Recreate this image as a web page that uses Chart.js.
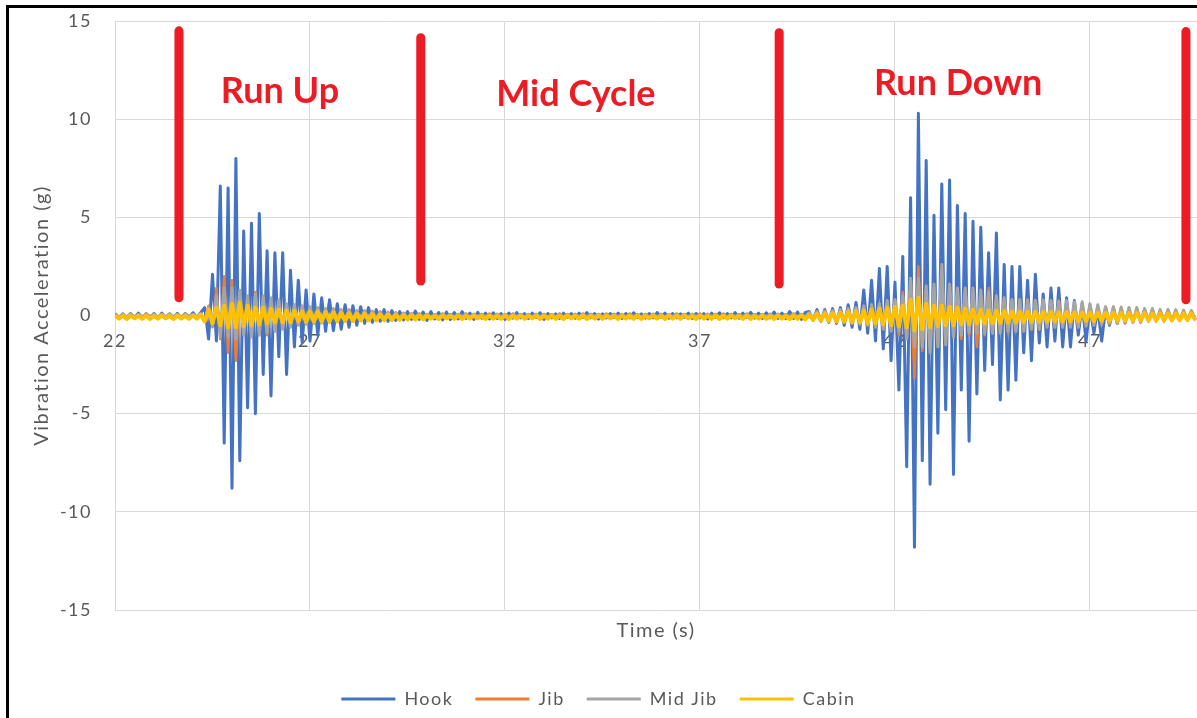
<!DOCTYPE html>
<html>
<head>
<meta charset="utf-8">
<title>Vibration acceleration</title>
<script src="https://cdn.jsdelivr.net/npm/chart.js@4.4.1/dist/chart.umd.min.js"></script>
<style>
  html, body { margin: 0; padding: 0; background: #fff; overflow: hidden; }
  #wrap { position: relative; width: 1197px; height: 718px; }
  #frame { position: absolute; left: 6px; top: 5px; width: 1300px; height: 800px;
           border-left: 3px solid #000; border-top: 3px solid #000; pointer-events: none; }
</style>
</head>
<body>
<div id="wrap"><canvas id="chart"></canvas><div id="frame"></div></div>
<script>
// Samples every 0.1 s starting at 22 s (in g)
const sampleStart = 22;
const sampleStep = 0.1;

const hook = [
  0.1,-0.12,0.08,-0.14,0.1,-0.1,0.12,-0.13,0.09,-0.11,
  0.1,-0.15,0.12,-0.1,0.08,-0.12,0.11,-0.13,0.1,-0.1,
  0.14,-0.12,0.15,0.4,-1.2,2.1,-1.3,6.6,-6.5,6.5,
  -8.8,8.0,-7.4,4.3,-4.7,4.7,-5.0,5.2,-3.0,3.3,
  -4.1,3.2,-2.1,3.2,-3.0,2.3,-1.6,1.8,-1.4,1.3,
  -1.3,1.1,-1.0,0.9,-0.8,0.8,-0.77,0.6,-0.7,0.55,
  -0.6,0.5,-0.5,0.45,-0.4,0.4,-0.35,0.3,-0.3,0.3,
  -0.3,0.25,-0.25,0.2,-0.22,0.2,-0.2,0.22,-0.2,0.18,
  -0.25,0.2,-0.18,0.15,-0.22,0.17,-0.2,0.15,-0.18,0.2,
  -0.15,0.12,-0.2,0.16,-0.14,0.12,-0.18,0.14,-0.15,0.1,
  -0.2,0.12,-0.13,0.15,-0.12,0.1,-0.16,0.12,-0.1,0.14,
  -0.2,0.1,-0.12,0.08,-0.15,0.12,-0.1,0.1,-0.14,0.12,
  -0.1,0.15,-0.12,0.1,-0.18,0.08,-0.12,0.1,-0.1,0.12,
  -0.15,0.1,-0.12,0.14,-0.1,0.08,-0.13,0.1,-0.12,0.15,
  -0.1,0.12,-0.14,0.1,-0.12,0.08,-0.1,0.12,-0.15,0.1,
  -0.12,0.1,-0.18,0.12,-0.1,0.14,-0.12,0.1,-0.12,0.15,
  -0.14,0.12,-0.1,0.16,-0.13,0.12,-0.15,0.14,-0.12,0.18,
  -0.15,0.12,-0.16,0.2,-0.15,0.18,-0.2,0.16,0.2,-0.25,
  0.3,-0.3,0.3,-0.35,0.35,-0.4,0.4,-0.5,0.55,-0.6,
  0.66,-0.7,1.3,-0.9,1.8,-1.3,2.4,-1.7,2.5,-2.3,
  1.7,-3.8,3.0,-7.7,6.0,-11.8,10.3,-7.4,7.9,-8.6,
  5.1,-6.0,6.7,-4.8,6.9,-8.1,5.6,-3.8,5.2,-6.4,
  4.8,-4.0,4.5,-2.8,3.2,-2.5,4.2,-4.3,2.6,-3.8,
  2.5,-3.3,2.5,-1.9,1.8,-2.3,2.1,-1.4,1.1,-1.6,
  1.4,-1.3,1.4,-1.6,0.9,-1.6,0.77,-1.0,0.6,-1.3,
  0.5,-0.9,0.4,-1.3,0.35,-0.5,0.3,-0.4,0.3,-0.35,
  0.3,-0.3,0.25,-0.3,0.25,-0.25,0.2,-0.25,0.2,-0.2,
  0.2,-0.25,0.2,-0.2,0.18,-0.2,0.2,-0.18
];

const jib = [
  0.05,-0.1,0.08,-0.08,0.06,-0.1,0.08,-0.06,0.1,-0.08,
  0.05,-0.1,0.08,-0.08,0.06,-0.1,0.08,-0.06,0.1,-0.08,
  0.05,-0.1,0.1,-0.3,0.5,-0.6,1.4,-1.2,2.0,-1.9,
  1.8,-2.3,1.2,-1.0,0.9,-1.0,1.2,-0.9,0.8,-1.0,
  0.7,-0.8,0.6,-0.6,0.5,-0.5,0.45,-0.4,0.4,-0.4,
  0.35,-0.35,0.3,-0.35,0.3,-0.3,0.3,-0.25,0.25,-0.25,
  0.25,-0.22,0.2,-0.22,0.2,-0.2,0.2,-0.18,0.18,-0.18,
  0.15,-0.15,0.15,-0.12,0.12,-0.12,0.1,-0.08,0.1,-0.06,
  0.08,-0.1,0.06,-0.08,0.1,-0.06,0.08,-0.1,0.06,-0.08,
  0.1,-0.08,0.06,-0.1,0.08,-0.06,0.1,-0.08,0.05,-0.1,
  0.08,-0.06,0.1,-0.08,0.06,-0.1,0.08,-0.08,0.06,-0.1,
  0.08,-0.1,0.06,-0.08,0.1,-0.06,0.08,-0.1,0.06,-0.08,
  0.1,-0.08,0.06,-0.1,0.08,-0.06,0.1,-0.08,0.05,-0.1,
  0.08,-0.06,0.1,-0.08,0.06,-0.1,0.08,-0.08,0.06,-0.1,
  0.08,-0.1,0.06,-0.08,0.1,-0.06,0.08,-0.1,0.06,-0.08,
  0.1,-0.08,0.06,-0.1,0.08,-0.06,0.1,-0.08,0.05,-0.1,
  0.08,-0.06,0.1,-0.08,0.06,-0.1,0.08,-0.08,0.06,-0.1,
  0.08,-0.1,0.06,-0.08,0.1,-0.06,0.08,-0.1,0.15,-0.15,
  0.2,-0.2,0.2,-0.25,0.25,-0.3,0.3,-0.3,0.35,-0.35,
  0.4,-0.4,0.45,-0.5,0.5,-0.55,0.6,-0.6,0.7,-0.7,
  0.8,-1.0,1.2,-1.2,1.5,-3.2,2.5,-1.8,1.4,-1.6,
  1.2,-1.2,2.1,-1.3,1.6,-1.0,1.4,-1.2,1.2,-1.0,
  1.0,-1.6,1.1,-1.0,1.4,-0.9,1.0,-0.8,0.9,-0.9,
  0.8,-0.8,0.8,-0.7,0.8,-0.7,0.7,-0.7,0.75,-0.6,
  0.7,-0.6,0.77,-0.6,0.6,-0.55,0.6,-0.6,0.55,-0.5,
  0.5,-0.5,0.5,-0.45,0.45,-0.45,0.45,-0.4,0.45,-0.4,
  0.4,-0.35,0.4,-0.35,0.35,-0.3,0.35,-0.3,0.3,-0.3,
  0.3,-0.28,0.3,-0.25,0.28,-0.25,0.25,-0.25
];

const midJib = [
  0.06,-0.08,0.05,-0.07,0.08,-0.06,0.05,-0.08,0.07,-0.05,
  0.06,-0.08,0.05,-0.07,0.08,-0.06,0.05,-0.08,0.07,-0.05,
  0.06,-0.08,0.08,-0.25,0.4,-0.5,1.0,-1.1,1.4,-1.1,
  1.4,-1.2,1.3,-1.0,1.0,-1.1,1.1,-1.0,1.0,-0.9,
  0.9,-0.8,0.8,-0.7,0.6,-0.6,0.55,-0.5,0.5,-0.45,
  0.45,-0.4,0.4,-0.38,0.35,-0.35,0.35,-0.3,0.3,-0.3,
  0.3,-0.28,0.25,-0.25,0.25,-0.22,0.22,-0.2,0.2,-0.2,
  0.18,-0.16,0.15,-0.14,0.12,-0.12,0.1,-0.08,0.07,-0.06,
  0.06,-0.08,0.05,-0.07,0.08,-0.06,0.05,-0.08,0.07,-0.05,
  0.06,-0.07,0.08,-0.05,0.06,-0.08,0.05,-0.07,0.08,-0.06,
  0.05,-0.08,0.07,-0.05,0.06,-0.08,0.05,-0.07,0.08,-0.06,
  0.06,-0.08,0.05,-0.07,0.08,-0.06,0.05,-0.08,0.07,-0.05,
  0.06,-0.07,0.08,-0.05,0.06,-0.08,0.05,-0.07,0.08,-0.06,
  0.05,-0.08,0.07,-0.05,0.06,-0.08,0.05,-0.07,0.08,-0.06,
  0.06,-0.08,0.05,-0.07,0.08,-0.06,0.05,-0.08,0.07,-0.05,
  0.06,-0.07,0.08,-0.05,0.06,-0.08,0.05,-0.07,0.08,-0.06,
  0.05,-0.08,0.07,-0.05,0.06,-0.08,0.05,-0.07,0.08,-0.06,
  0.06,-0.08,0.05,-0.07,0.08,-0.06,0.07,-0.08,0.15,-0.18,
  0.2,-0.2,0.22,-0.25,0.25,-0.3,0.3,-0.32,0.35,-0.4,
  0.4,-0.45,0.5,-0.5,0.55,-0.6,0.6,-0.7,0.77,-0.8,
  0.8,-0.8,1.0,-1.2,1.9,-1.6,1.9,-1.6,1.5,-1.9,
  1.6,-1.6,2.6,-1.5,1.6,-1.1,1.4,-1.0,1.4,-0.9,
  1.4,-0.9,1.3,-0.9,1.2,-0.9,1.0,-0.9,0.9,-0.8,
  0.8,-0.8,0.8,-0.8,0.8,-0.7,0.77,-0.7,0.8,-0.6,
  0.77,-0.6,0.7,-0.6,0.77,-0.6,0.7,-0.6,0.7,-0.55,
  0.6,-0.5,0.55,-0.45,0.45,-0.4,0.45,-0.4,0.4,-0.4,
  0.4,-0.35,0.4,-0.35,0.35,-0.3,0.35,-0.3,0.3,-0.3,
  0.3,-0.25,0.28,-0.25,0.25,-0.25,0.25,-0.22
];

const cabin = [
  0.0,-0.16,-0.02,-0.18,0.0,-0.15,-0.02,-0.17,0.0,-0.18,
  -0.02,-0.16,0.0,-0.15,-0.02,-0.18,0.0,-0.16,-0.02,-0.17,
  0.0,-0.16,0.05,-0.3,0.3,-0.4,0.4,-0.5,0.5,-0.6,
  0.6,-0.6,0.66,-0.55,0.5,-0.5,0.4,-0.45,0.4,-0.4,
  0.35,-0.35,0.3,-0.35,0.25,-0.35,0.25,-0.3,0.2,-0.32,
  0.2,-0.3,0.2,-0.3,0.18,-0.3,0.15,-0.3,0.15,-0.28,
  0.12,-0.28,0.1,-0.26,0.1,-0.25,0.08,-0.25,0.06,-0.24,
  0.05,-0.22,0.04,-0.22,0.03,-0.2,0.02,-0.2,0.0,-0.2,
  0.0,-0.16,-0.02,-0.18,0.0,-0.15,-0.02,-0.17,0.0,-0.18,
  -0.02,-0.16,0.0,-0.15,-0.02,-0.18,0.0,-0.16,-0.02,-0.17,
  0.0,-0.18,-0.02,-0.16,0.0,-0.17,-0.02,-0.15,0.0,-0.18,
  -0.02,-0.16,0.0,-0.17,-0.02,-0.18,0.0,-0.15,-0.02,-0.16,
  0.0,-0.18,-0.02,-0.16,0.0,-0.17,0.0,-0.15,-0.02,-0.18,
  0.0,-0.16,-0.02,-0.17,0.0,-0.18,-0.02,-0.15,0.0,-0.16,
  -0.02,-0.18,0.0,-0.16,-0.02,-0.17,0.0,-0.15,-0.02,-0.18,
  0.0,-0.16,-0.02,-0.17,0.0,-0.18,-0.02,-0.16,0.0,-0.15,
  -0.02,-0.17,0.0,-0.18,-0.02,-0.16,0.0,-0.17,-0.02,-0.18,
  0.0,-0.16,-0.02,-0.18,0.0,-0.17,0.02,-0.2,0.05,-0.22,
  0.08,-0.25,0.1,-0.28,0.12,-0.3,0.15,-0.32,0.2,-0.35,
  0.22,-0.35,0.25,-0.4,0.3,-0.4,0.35,-0.45,0.4,-0.5,
  0.45,-0.55,0.5,-0.6,0.8,-0.77,0.9,-0.7,0.6,-0.6,
  0.5,-0.55,0.5,-0.5,0.45,-0.5,0.4,-0.45,0.35,-0.45,
  0.3,-0.4,0.3,-0.4,0.25,-0.38,0.25,-0.38,0.22,-0.36,
  0.2,-0.35,0.2,-0.34,0.2,-0.33,0.18,-0.32,0.18,-0.32,
  0.18,-0.3,0.16,-0.3,0.16,-0.3,0.15,-0.28,0.15,-0.28,
  0.15,-0.28,0.14,-0.27,0.14,-0.27,0.13,-0.26,0.13,-0.26,
  0.12,-0.26,0.12,-0.25,0.12,-0.25,0.1,-0.25,0.1,-0.24,
  0.1,-0.24,0.1,-0.24,0.1,-0.23,0.1,-0.23
];

const seriesNames = ['Hook', 'Jib', 'Mid Jib', 'Cabin'];
const seriesValues = [hook, jib, midJib, cabin];
const seriesColors = ['#4472C4', '#ED7D31', '#A5A5A5', '#FFC000'];
const seriesWidths = [3, 2.5, 3, 4];

const xTicks = [22, 27, 32, 37, 42, 47];
const xMin = 22, xMax = 49.744;

// red phase dividers (time, bottom, top) and phase captions
const markerTimes = [23.64, 29.84, 39.03, 49.46];
const markerBottoms = [0.9, 1.76, 1.6, 0.8];
const markerTops = [14.5, 14.15, 14.4, 14.46];
const noteLabels = ['Run Up', 'Mid Cycle', 'Run Down'];
const noteTimes = [26.23, 33.82, 43.62];
const noteValues = [10.82, 10.66, 11.25];

const time = hook.map((_, i) => +(sampleStart + i * sampleStep).toFixed(2));
const axisFont = { family: 'Lato', size: 18 };
const titleFont = { family: 'Lato', size: 20 };
const textGrey = '#595959';
const gridGrey = '#d9d9d9';
const red = '#ED1C24';
const spacing = '1.5px'; // the Excel text is set a little wider than Lato

const datasets = seriesValues.map((vals, k) => ({
  label: seriesNames[k],
  data: vals.map((v, i) => ({ x: time[i], y: v })),
  xAxisID: 'x',
  borderColor: seriesColors[k],
  backgroundColor: seriesColors[k],
  borderWidth: seriesWidths[k],
  borderJoinStyle: 'round',
  pointRadius: 0,
  tension: 0,
  order: 10 - k
}));
markerTimes.forEach((t, k) => datasets.push({
  label: 'marker',
  data: [{ x: t, y: markerBottoms[k] }, { x: t, y: markerTops[k] }],
  xAxisID: 'x',
  borderColor: red,
  backgroundColor: red,
  borderWidth: 9,
  borderCapStyle: 'round',
  pointRadius: 0,
  clip: false,
  order: 0
}));

const textSpacing = {
  id: 'textSpacing',
  beforeLayout(chart) { chart.ctx.letterSpacing = spacing; },
  beforeDraw(chart) { chart.ctx.letterSpacing = spacing; }
};

const phaseNotes = {
  id: 'phaseNotes',
  afterDatasetsDraw(chart) {
    const { ctx, scales: { x, y } } = chart;
    ctx.save();
    ctx.letterSpacing = '0px';
    ctx.fillStyle = red;
    ctx.font = 'bold 36px Lato';
    ctx.textAlign = 'center';
    ctx.textBaseline = 'alphabetic';
    noteLabels.forEach((txt, k) => {
      ctx.fillText(txt, x.getPixelForValue(noteTimes[k]), y.getPixelForValue(noteValues[k]));
    });
    ctx.restore();
  }
};

const setXTicks = (s) => { s.ticks = xTicks.map((value) => ({ value })); };

new Chart(document.getElementById('chart'), {
  type: 'line',
  data: { datasets },
  plugins: [textSpacing, phaseNotes],
  options: {
    responsive: true,
    maintainAspectRatio: false,
    animation: false,
    events: [],
    layout: { padding: { top: 21, right: 0, bottom: 0, left: 0 } },
    plugins: {
      tooltip: { enabled: false },
      legend: {
        position: 'bottom',
        labels: {
          boxWidth: 54, boxHeight: 3, padding: 22, color: textGrey, font: { family: 'Lato', size: 18 },
          generateLabels: (chart) => Chart.defaults.plugins.legend.labels.generateLabels(chart)
            .map((it) => Object.assign(it, { lineWidth: 0 })),
          filter: (item) => seriesNames.includes(item.text),
          sort: (a, b) => a.datasetIndex - b.datasetIndex
        }
      }
    },
    scales: {
      x: {
        type: 'linear', min: xMin, max: xMax, position: { y: 0 },
        afterBuildTicks: setXTicks,
        grid: { color: gridGrey, drawTicks: false },
        border: { color: gridGrey },
        ticks: { display: false }
      },
      // tick numbers sit on top of the traces, as in Excel
      xLabels: {
        type: 'linear', axis: 'x', min: xMin, max: xMax, position: { y: 0 }, z: 1,
        afterBuildTicks: setXTicks,
        grid: { display: false, drawTicks: false },
        border: { display: false },
        ticks: { color: textGrey, font: axisFont, padding: 15, maxRotation: 0, autoSkip: false }
      },
      xTitle: {
        type: 'linear', axis: 'x', position: 'bottom', min: xMin, max: xMax,
        ticks: { display: false },
        grid: { display: false, drawTicks: false },
        border: { display: false },
        title: { display: true, text: 'Time (s)', color: textGrey, font: titleFont, padding: { top: 9, bottom: 25 } }
      },
      y: {
        min: -15, max: 15,
        afterFit: (s) => { s.width = 115; s.paddingTop = 0; s.paddingBottom = 0; },
        ticks: { stepSize: 5, color: textGrey, font: axisFont, padding: 23 },
        grid: { color: gridGrey, drawTicks: false },
        border: { color: gridGrey },
        title: { display: true, text: 'Vibration Acceleration (g)', color: textGrey, font: titleFont, padding: { top: 30, bottom: 0 } }
      }
    }
  }
});
</script>
</body>
</html>
